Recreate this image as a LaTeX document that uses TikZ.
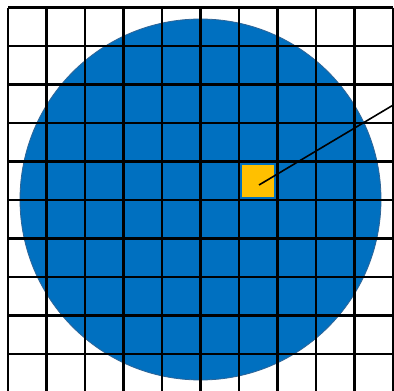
\documentclass[tikz,border=0pt]{standalone}
\definecolor{discblue}{HTML}{0070C0}
\definecolor{discedge}{HTML}{2E6496}
\definecolor{cellyellow}{HTML}{FFC000}
\tikzset{
  gridline/.style={line width=2.7pt, black},
  disc/.style={circle, fill=discblue, draw=discedge, line width=0.8pt, minimum size=361pt, inner sep=0pt},
  hotcell/.style={rectangle, fill=cellyellow, minimum size=32pt, inner sep=0pt},
  pointer/.style={line width=1.6pt, black}
}
\begin{document}
\begin{tikzpicture}[x=1pt,y=-1pt]
\useasboundingbox (0,0) rectangle (394,391);
\clip (0,0) rectangle (394,391);
\fill[white] (0,0) rectangle (394,391);
\node[disc] (disc) at (200.5,199.5) {};
\node[hotcell] (sq) at (258,181) {};
\foreach \i in {0,...,10} {
  \draw[gridline] ({8+38.5*\i},7.5) -- ({8+38.5*\i},400);
  \draw[gridline] (8,{7.5+38.5*\i}) -- (393,{7.5+38.5*\i});
}
\coordinate (tip) at ([shift={(1,4)}]sq.center);
\coordinate (tail) at (400,101);
\draw[pointer] (tip) -- (tail);
\end{tikzpicture}
\end{document}
